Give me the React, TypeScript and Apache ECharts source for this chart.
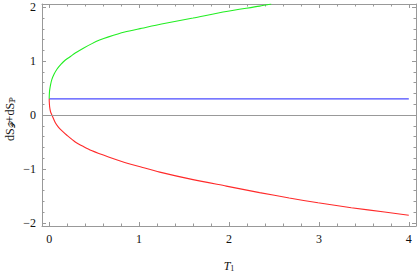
import React, { useEffect, useRef } from "react";
import * as echarts from "echarts";

const xMajorTicks = [0, 1, 2, 3, 4];
const xMinorTicks = [0.2, 0.4, 0.6, 0.8, 1.2, 1.4, 1.6, 1.8, 2.2, 2.4, 2.6, 2.8, 3.2, 3.4, 3.6, 3.8];
const yMajorTicks = [-2, -1, 0, 1, 2];
const yMinorTicks = [-1.8, -1.6, -1.4, -1.2, -0.8, -0.6, -0.4, -0.2, 0.2, 0.4, 0.6, 0.8, 1.2, 1.4, 1.6, 1.8];

const greenT = [0, 0.002, 0.006, 0.015, 0.03, 0.055, 0.086, 0.13, 0.18, 0.24, 0.29, 0.38, 0.47, 0.56, 0.66, 0.84, 1.03, 1.25, 1.6, 1.97, 2.34, 2.47];
const greenY = [0.3, 0.4, 0.47, 0.56, 0.66, 0.76, 0.85, 0.94, 1.02, 1.09, 1.15, 1.24, 1.32, 1.39, 1.45, 1.54, 1.61, 1.69, 1.8, 1.92, 2.02, 2.06];

const redT = [0, 0.001, 0.005, 0.015, 0.03, 0.067, 0.1, 0.14, 0.2, 0.29, 0.38, 0.47, 0.66, 0.84, 1.03, 1.23, 1.6, 1.97, 2.34, 2.67, 2.99, 3.36, 3.73, 4.0];
const redY = [0.3, 0.24, 0.15, 0.06, 0.0, -0.14, -0.22, -0.29, -0.38, -0.5, -0.585, -0.66, -0.78, -0.88, -0.97, -1.06, -1.2, -1.32, -1.44, -1.54, -1.63, -1.72, -1.8, -1.86];

const blueT = [0, 4];
const blueY = [0.3, 0.3];

const X_MIN = -0.08;
const X_MAX = 4.08;
const Y_MIN = -2.06;
const Y_MAX = 2.06;

const FRAME = "#999999";
const SERIF = "'Liberation Serif', 'DejaVu Serif', serif";

const fmt = (v: number) => (v < 0 ? "\u2212" + String(-v) : String(v));

function mkAxis(kind: "x" | "y", position: string, ticks: number[], major: boolean, labels: boolean, line: boolean, extra: any = {}) {
  return {
    type: "value",
    position,
    min: kind === "x" ? X_MIN : Y_MIN,
    max: kind === "x" ? X_MAX : Y_MAX,
    axisLine: { show: line, onZero: false, lineStyle: { color: FRAME, width: 1 } },
    axisTick: {
      show: true,
      inside: true,
      length: major ? 4 : 2.5,
      customValues: ticks,
      lineStyle: { color: FRAME, width: 1 },
    },
    axisLabel: {
      show: labels,
      customValues: ticks,
      formatter: fmt,
      color: "#111",
      fontFamily: SERIF,
      fontSize: 12,
      margin: kind === "x" ? 7 : 6,
    },
    splitLine: { show: false },
    ...extra,
  };
}

const zip = (a: number[], b: number[]) => a.map((v, i) => [v, b[i]]);

export default function App() {
  const ref = useRef<HTMLDivElement>(null);
  useEffect(() => {
    if (!ref.current) return;
    const chart = echarts.init(ref.current, undefined, { renderer: "svg" });
    chart.setOption({
      animation: false,
      backgroundColor: "#ffffff",
      grid: { left: 42, right: 1, top: 4, bottom: 43, containLabel: false },
      graphic: [
        {
          type: "text",
          x: 9,
          y: 119,
          rotation: Math.PI / 2,
          silent: true,
          style: {
            text: "{n|dS}{sub|\uD835\uDCAB}{n|+dS}{sub|\u2119}",
            align: "center",
            verticalAlign: "middle",
            rich: {
              n: { fontFamily: SERIF, fontSize: 12, fill: "#111", verticalAlign: "bottom", lineHeight: 14 },
              sub: { fontFamily: SERIF, fontSize: 8, fill: "#111", verticalAlign: "bottom", lineHeight: 10 },
            },
          },
        },
      ],
      xAxis: [
        mkAxis("x", "bottom", xMajorTicks, true, true, true, {
          name: "{it|T}{sub|1}",
          nameLocation: "middle",
          nameGap: 32,
          nameTextStyle: {
            rich: {
              it: { fontFamily: SERIF, fontStyle: "italic", fontSize: 12, color: "#111", verticalAlign: "bottom", lineHeight: 14 },
              sub: { fontFamily: SERIF, fontSize: 8, color: "#111", verticalAlign: "bottom", lineHeight: 10 },
            },
          },
        }),
        mkAxis("x", "bottom", xMinorTicks, false, false, false),
        mkAxis("x", "top", xMajorTicks, true, false, true),
        mkAxis("x", "top", xMinorTicks, false, false, false),
      ],
      yAxis: [
        mkAxis("y", "left", yMajorTicks, true, true, true),
        mkAxis("y", "left", yMinorTicks, false, false, false),
        mkAxis("y", "right", yMajorTicks, true, false, true),
        mkAxis("y", "right", yMinorTicks, false, false, false),
      ],
      series: [
        {
          type: "line",
          xAxisIndex: 0,
          yAxisIndex: 0,
          data: zip(blueT, blueY),
          showSymbol: false,
          lineStyle: { color: "#4a4aff", width: 1.1 },
          markLine: {
            silent: true,
            symbol: ["none", "none"],
            label: { show: false },
            lineStyle: { color: FRAME, width: 1, type: "solid" },
            data: [{ yAxis: 0 }],
          },
          z: 3,
        },
        {
          type: "line",
          xAxisIndex: 0,
          yAxisIndex: 0,
          data: zip(greenT, greenY),
          showSymbol: false,
          smooth: 0.25,
          lineStyle: { color: "#22ee22", width: 1.1 },
          clip: true,
          z: 4,
        },
        {
          type: "line",
          xAxisIndex: 0,
          yAxisIndex: 0,
          data: zip(redT, redY),
          showSymbol: false,
          smooth: 0.25,
          lineStyle: { color: "#ff2a2a", width: 1.1 },
          clip: true,
          z: 4,
        },
      ],
    });
    return () => chart.dispose();
  }, []);
  return <div ref={ref} style={{ position: "absolute", left: 0, top: 0, width: 417, height: 277 }} />;
}
